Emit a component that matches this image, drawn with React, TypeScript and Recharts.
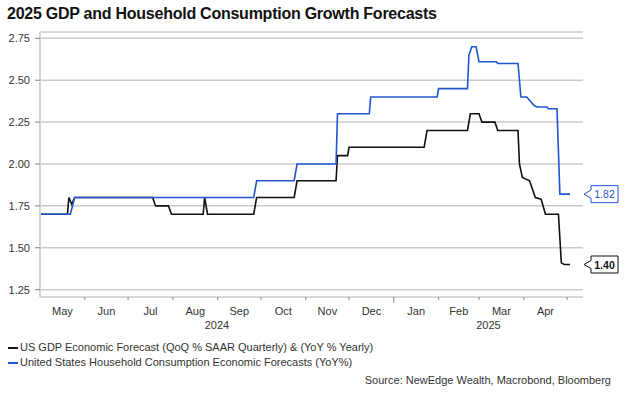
import React from 'react';
import { LineChart, Line, XAxis, YAxis, CartesianGrid, LabelList } from 'recharts';

// month boundaries on the time axis, and the labels centred between them
const monthStarts = [
  '2024-05-01', '2024-06-01', '2024-07-01', '2024-08-01', '2024-09-01', '2024-10-01', '2024-11-01',
  '2024-12-01', '2025-01-01', '2025-02-01', '2025-03-01', '2025-04-01', '2025-05-01',
];
const monthLabels = ['May', 'Jun', 'Jul', 'Aug', 'Sep', 'Oct', 'Nov', 'Dec', 'Jan', 'Feb', 'Mar', 'Apr'];
const yearLabels = ['2024', '2025'];
const yearStarts = ['2024-05-01', '2025-01-01'];
const axisEnd = '2025-05-12';
const yTicks = [1.25, 1.5, 1.75, 2.0, 2.25, 2.5, 2.75];

// US GDP economic forecast
const gdpDates = [
  '2024-05-01', '2024-05-20', '2024-05-21', '2024-05-23', '2024-05-25', '2024-07-18', '2024-07-20',
  '2024-07-29', '2024-07-31', '2024-08-22', '2024-08-23', '2024-08-25', '2024-09-26', '2024-09-28',
  '2024-10-24', '2024-10-26', '2024-11-22', '2024-11-23', '2024-11-30', '2024-12-01', '2025-01-22',
  '2025-01-24', '2025-02-21', '2025-02-23', '2025-03-01', '2025-03-03', '2025-03-12', '2025-03-14',
  '2025-03-28', '2025-03-29', '2025-03-31', '2025-04-05', '2025-04-09', '2025-04-13', '2025-04-16',
  '2025-04-25', '2025-04-27', '2025-04-29', '2025-05-03',
];
const gdpValues = [
  1.7, 1.7, 1.8, 1.76, 1.8, 1.8, 1.75,
  1.75, 1.7, 1.7, 1.8, 1.7, 1.7, 1.8,
  1.8, 1.9, 1.9, 2.05, 2.05, 2.1, 2.1,
  2.2, 2.2, 2.3, 2.3, 2.25, 2.25, 2.2,
  2.2, 2.0, 1.92, 1.9, 1.8, 1.79, 1.7,
  1.7, 1.41, 1.4, 1.4,
];

// US household consumption forecast
const hhDates = [
  '2024-05-01', '2024-05-22', '2024-05-25', '2024-09-26', '2024-09-28', '2024-10-24', '2024-10-26',
  '2024-11-22', '2024-11-23', '2024-12-15', '2024-12-16', '2025-01-31', '2025-02-01', '2025-02-21',
  '2025-02-22', '2025-02-24', '2025-02-27', '2025-03-01', '2025-03-13', '2025-03-14', '2025-03-28',
  '2025-03-30', '2025-04-03', '2025-04-05', '2025-04-08', '2025-04-10', '2025-04-17', '2025-04-18',
  '2025-04-24', '2025-04-26', '2025-05-03',
];
const hhValues = [
  1.7, 1.7, 1.8, 1.8, 1.9, 1.9, 2.0,
  2.0, 2.3, 2.3, 2.4, 2.4, 2.45, 2.45,
  2.65, 2.7, 2.7, 2.61, 2.61, 2.6, 2.6,
  2.4, 2.4, 2.38, 2.35, 2.34, 2.34, 2.33,
  2.33, 1.82, 1.82,
];

const ts = (d: string) => Date.parse(d + 'T00:00:00Z');

const gdpData = gdpDates.map((d, i) => ({ t: ts(d), v: gdpValues[i] }));
const hhData = hhDates.map((d, i) => ({ t: ts(d), v: hhValues[i] }));

const starts = monthStarts.map(ts);
const domainEnd = ts(axisEnd);

// tick kinds keyed by timestamp
const tickInfo: Record<number, { kind: string; label?: string }> = {};
starts.slice(1).forEach((t) => {
  tickInfo[t] = { kind: 'edge', label: t === ts('2025-01-01') ? 'major' : '' };
});
monthLabels.forEach((m, i) => {
  tickInfo[Math.round((starts[i] + starts[i + 1]) / 2)] = { kind: 'month', label: m };
});
yearLabels.forEach((y, i) => {
  const a = ts(yearStarts[i]);
  const b = i + 1 < yearStarts.length ? ts(yearStarts[i + 1]) : domainEnd;
  tickInfo[Math.round((a + b) / 2) + 1] = { kind: 'year', label: y };
});
const xTicks = Object.keys(tickInfo).map(Number).sort((a, b) => a - b);

const FONT = '"Liberation Sans", Arial, sans-serif';
const BLUE = '#1f55d4';
const BLACK = '#111111';

const TimeTick = (props: any) => {
  const { x, y, payload } = props;
  const info = tickInfo[payload.value];
  if (!info) return null;
  if (info.kind === 'edge') {
    return <line x1={x} x2={x} y1={y} y2={y + (info.label === 'major' ? 6 : 3)} stroke="#888" strokeWidth={1} />;
  }
  return (
    <text x={x} y={y + (info.kind === 'month' ? 18 : 32)} textAnchor="middle" fontSize={11} fill="#333" fontFamily={FONT}>
      {info.label}
    </text>
  );
};

const makeCallout = (color: string, bold: boolean, last: number) => (props: any) => {
  const { x, y, index, value } = props;
  if (index !== last) return null;
  const bx = x + 21;
  const w = 27;
  const h = 17;
  return (
    <g>
      <path
        d={`M${bx},${y - h / 2} H${bx + w} V${y + h / 2} H${bx} V${y + 4} L${x + 14},${y} L${bx},${y - 4} Z`}
        fill="#fff"
        stroke={color}
        strokeWidth={1}
      />
      <text x={bx + w / 2} y={y + 4} textAnchor="middle" fontSize={10.5} fontWeight={bold ? 'bold' : 'normal'} fill={color} fontFamily={FONT}>
        {Number(value).toFixed(2)}
      </text>
    </g>
  );
};

export default function App() {
  return (
    <div style={{ position: 'absolute', left: 0, top: 0, width: 628, height: 394, background: '#fff', fontFamily: FONT, color: '#333' }}>
      <div style={{ position: 'absolute', left: 7, top: 5, fontSize: 16, fontWeight: 'bold', color: '#111', letterSpacing: -0.25, whiteSpace: 'nowrap' }}>
        2025 GDP and Household Consumption Growth Forecasts
      </div>
      <div style={{ position: 'absolute', left: 0, top: 0 }}>
        <LineChart width={628} height={340} margin={{ top: 32, right: 45, left: 0, bottom: 0 }}>
          <CartesianGrid vertical={false} stroke="#cccccc" strokeWidth={1.5} />
          <XAxis
            dataKey="t"
            type="number"
            domain={[starts[0], domainEnd]}
            allowDataOverflow
            ticks={xTicks}
            interval={0}
            tick={<TimeTick />}
            tickLine={false}
            tickSize={0}
            tickMargin={0}
            height={43}
            axisLine={{ stroke: '#d4d4d4', strokeWidth: 1 }}
          />
          <YAxis
            type="number"
            domain={[1.206, 2.788]}
            allowDataOverflow
            ticks={yTicks}
            interval={0}
            width={40}
            tickSize={5}
            tickMargin={5}
            tickFormatter={(v: number) => v.toFixed(2)}
            tick={{ fontSize: 11, fill: '#333', fontFamily: FONT }}
            tickLine={{ stroke: '#888' }}
            axisLine={{ stroke: '#d4d4d4', strokeWidth: 2 }}
          />
          <Line data={gdpData} dataKey="v" type="linear" stroke={BLACK} strokeWidth={1.6} dot={false} isAnimationActive={false}>
            <LabelList dataKey="v" content={makeCallout(BLACK, true, gdpData.length - 1)} />
          </Line>
          <Line data={hhData} dataKey="v" type="linear" stroke={BLUE} strokeWidth={1.6} dot={false} isAnimationActive={false}>
            <LabelList dataKey="v" content={makeCallout(BLUE, false, hhData.length - 1)} />
          </Line>
        </LineChart>
      </div>
      <div style={{ position: 'absolute', left: 8, top: 340, fontSize: 11, lineHeight: '15px', color: '#333' }}>
        <div style={{ display: 'flex', alignItems: 'center' }}>
          <span style={{ display: 'inline-block', width: 10, height: 2, background: BLACK, marginRight: 2 }} />
          US GDP Economic Forecast (QoQ % SAAR Quarterly) &amp; (YoY % Yearly)
        </div>
        <div style={{ display: 'flex', alignItems: 'center' }}>
          <span style={{ display: 'inline-block', width: 10, height: 2, background: BLUE, marginRight: 2 }} />
          United States Household Consumption Economic Forecasts (YoY%)
        </div>
      </div>
      <div style={{ position: 'absolute', right: 17, top: 374, fontSize: 11, color: '#333', whiteSpace: 'nowrap' }}>
        Source: NewEdge Wealth, Macrobond, Bloomberg
      </div>
    </div>
  );
}
